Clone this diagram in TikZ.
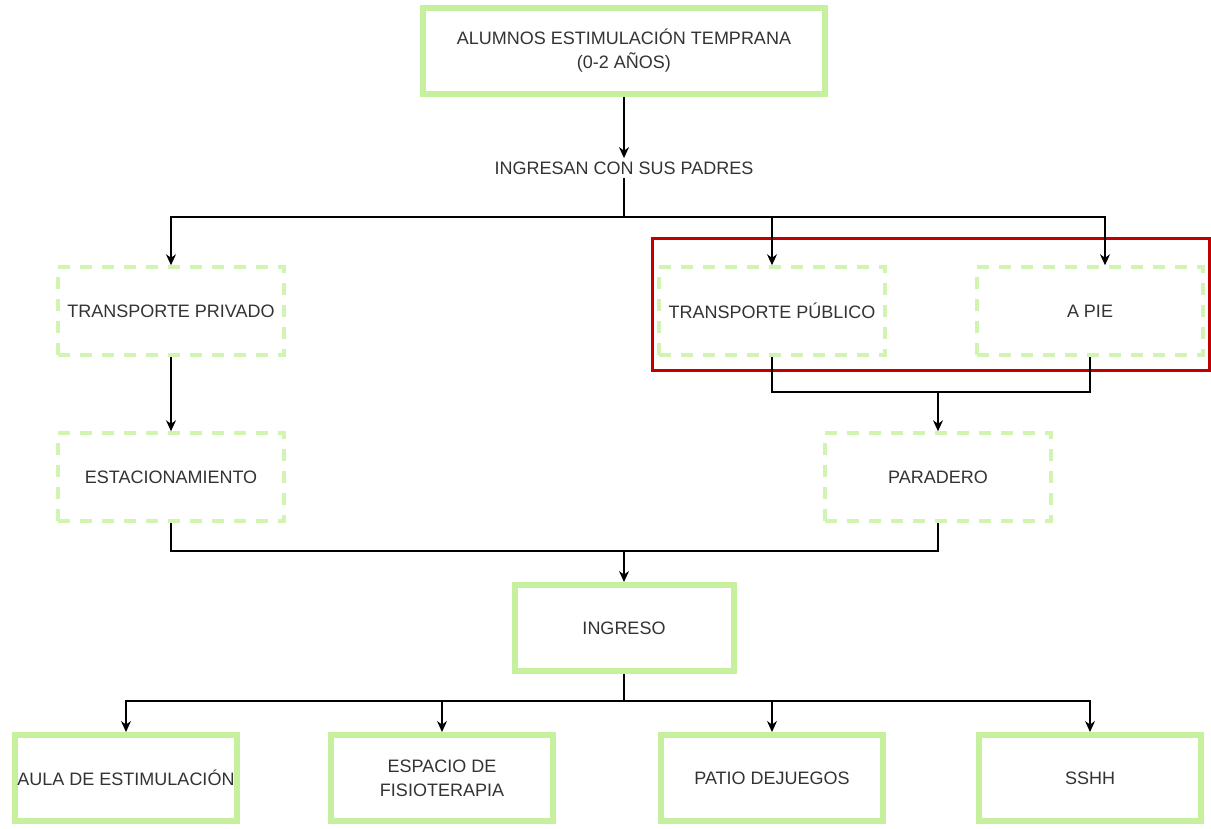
\documentclass[tikz,border=0pt]{standalone}
\usepackage{fontspec}
\setmainfont{Liberation Sans}
\usepackage{xcolor}
\usetikzlibrary{arrows.meta, positioning, calc}

\definecolor{boxgreen}{RGB}{198,240,158}
\definecolor{dashgreen}{RGB}{210,244,178}
\definecolor{framered}{RGB}{192,0,0}
\definecolor{textgray}{RGB}{51,51,51}

\tikzset{
    solidbox/.style={draw=boxgreen, line width=6pt, fill=white, align=center,
        minimum width=222pt, minimum height=86pt, inner sep=2pt},
    dashbox/.style={draw=dashgreen, line width=3.5pt, dash pattern=on 12pt off 10pt,
        fill=white, align=center, minimum width=226pt, minimum height=88pt, inner sep=2pt},
    link/.style={line width=1.3pt, -{Stealth[length=11pt, width=10pt]}},
    plain/.style={line width=1.3pt}
}

\begin{document}
\begin{tikzpicture}[x=1pt, y=-1pt,
    every node/.style={font=\fontsize{18}{24}\selectfont, text=textgray}]
    \useasboundingbox (0,0) rectangle (1211,828);

    % top
    \node[solidbox, minimum width=402pt] (alumnos) at (624,51)
        {ALUMNOS ESTIMULACIÓN TEMPRANA\\(0-2 AÑOS)};
    \node (padres) at (624,168) {INGRESAN CON SUS PADRES};

    % ways in
    \node[dashbox] (privado) at (171,311) {TRANSPORTE PRIVADO};
    \node[dashbox] (publico) at (772,311) {TRANSPORTE PÚBLICO};
    \node[dashbox] (apie) at (1090,311) {A PIE};
    \node[dashbox] (estac) at (171,477) {ESTACIONAMIENTO};
    \node[dashbox] (paradero) at (938,477) {PARADERO};

    % entrance and rooms
    \node[solidbox, minimum width=219pt] (ingreso) at (624,628) {INGRESO};
    \node[solidbox] (aula) at (126,778) {AULA DE ESTIMULACIÓN};
    \node[solidbox] (fisio) at (442,778) {ESPACIO DE\\FISIOTERAPIA};
    \node[solidbox] (patio) at (772,778) {PATIO DEJUEGOS};
    \node[solidbox] (sshh) at (1090,778) {SSHH};

    \draw[framered, line width=3pt] (652,238) rectangle (1209,370);

    % connectors
    \draw[link] (alumnos.south) -- (padres.north);
    \coordinate (split) at (624,217);
    \coordinate (apietop) at ([xshift=15pt]apie.north);
    \draw[plain] (padres.south) -- (split);
    \draw[link] (split) -| (privado.north);
    \draw[link] (split) -| (publico.north);
    \draw[link] (split) -| (apietop);

    \draw[link] (privado.south) -- (estac.north);

    \coordinate (join1) at (938,392);
    \draw[plain] (publico.south) |- (join1);
    \draw[plain] (apie.south) |- (join1);
    \draw[link] (join1) -- (paradero.north);

    \coordinate (join2) at (624,551);
    \draw[plain] (estac.south) |- (join2);
    \draw[plain] (paradero.south) |- (join2);
    \draw[link] (join2) -- (ingreso.north);

    \coordinate (split2) at (624,701);
    \draw[plain] (ingreso.south) -- (split2);
    \foreach \room in {aula, fisio, patio, sshh}
        \draw[link] (split2) -| (\room.north);
\end{tikzpicture}
\end{document}
